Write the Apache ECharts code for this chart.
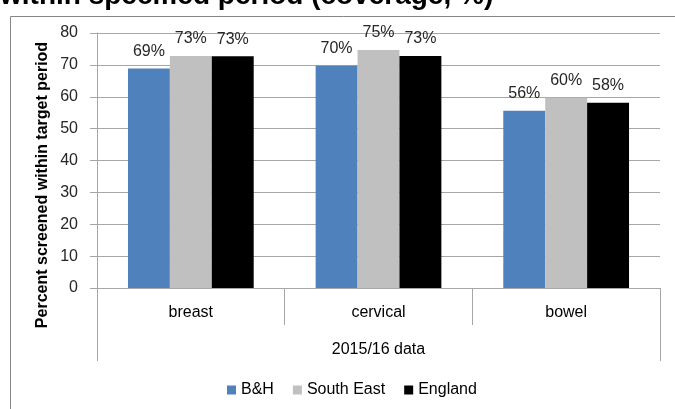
<!DOCTYPE html>
<html><head><meta charset="utf-8">
<script src="https://cdn.jsdelivr.net/npm/echarts@6/dist/echarts.min.js"></script>
<style>html,body{margin:0;padding:0;background:#fff}#c{width:675px;height:409px}</style>
</head><body><div id="c"></div>
<script>
const categories = ['breast', 'cervical', 'bowel'];
const groupLabel = ['2015/16 data'];
const seriesNames = ['B&H', 'South East', 'England'];
const bhValues = [68.9, 69.7, 55.6];
const southEastValues = [72.8, 74.7, 59.7];
const englandValues = [72.7, 72.8, 58.1];
const yTicks = [0, 80, 10];
const colors = ['#4F81BD', '#C0C0C0', '#000000'];
const font = 'Liberation Sans';
const yAxisTitle = 'Percent screened within target period';
const chartTitle = 'within specified period (coverage, %)';

const chart = echarts.init(document.getElementById('c'));
const mk = (name, data, color) => ({
  name, type: 'bar', data, xAxisIndex: 0,
  barGap: '0%', barCategoryGap: '33%',
  itemStyle: { color },
  label: { show: true, position: 'top', distance: 9, fontFamily: font, fontSize: 16, color: '#262626',
    formatter: p => Math.round(p.value) + '%' }
});
chart.setOption({
  animation: false,
  textStyle: { fontFamily: font },
  graphic: [
    { type: 'rect', left: 8, top: 14, shape: { width: 680, height: 410 }, style: { fill: 'none', stroke: '#868686', lineWidth: 1 } },
    { type: 'text', left: 0, top: -18, style: { text: chartTitle, fontFamily: font, fontWeight: 'bold', fontSize: 28, fill: '#000' } },
    { type: 'text', x: 43, y: 185, rotation: Math.PI / 2,
      style: { text: yAxisTitle, fontFamily: font, fontWeight: 'bold', fontSize: 16, fill: '#000', align: 'center', verticalAlign: 'middle' } }
  ],
  grid: { left: 97, right: 15, top: 33, bottom: 121 },
  legend: { top: 377, left: 222, itemWidth: 9, itemHeight: 9, itemGap: 19, icon: 'rect',
    textStyle: { fontFamily: font, fontSize: 16, color: '#000' }, data: seriesNames },
  xAxis: [
    { type: 'category', data: categories, position: 'bottom',
      axisLine: { lineStyle: { color: '#a6a6a6' } },
      axisTick: { show: true, length: 37, interval: 0, lineStyle: { color: '#a6a6a6' } },
      axisLabel: { fontFamily: font, fontSize: 16, color: '#000', margin: 17 } },
    { type: 'category', data: groupLabel, position: 'bottom', offset: 37,
      axisLine: { show: false },
      axisTick: { show: true, length: 36, lineStyle: { color: '#a6a6a6' } },
      axisLabel: { fontFamily: font, fontSize: 16, color: '#000', margin: 17 } }
  ],
  yAxis: {
    type: 'value', min: yTicks[0], max: yTicks[1], interval: yTicks[2],
    axisLine: { show: true, lineStyle: { color: '#a6a6a6' } },
    axisTick: { show: true, length: 7, lineStyle: { color: '#a6a6a6' } },
    splitLine: { lineStyle: { color: '#a6a6a6' } },
    axisLabel: { fontFamily: font, fontSize: 16, color: '#262626', margin: 19 }
  },
  series: [
    mk(seriesNames[0], bhValues, colors[0]),
    mk(seriesNames[1], southEastValues, colors[1]),
    mk(seriesNames[2], englandValues, colors[2])
  ]
});
</script></body></html>
